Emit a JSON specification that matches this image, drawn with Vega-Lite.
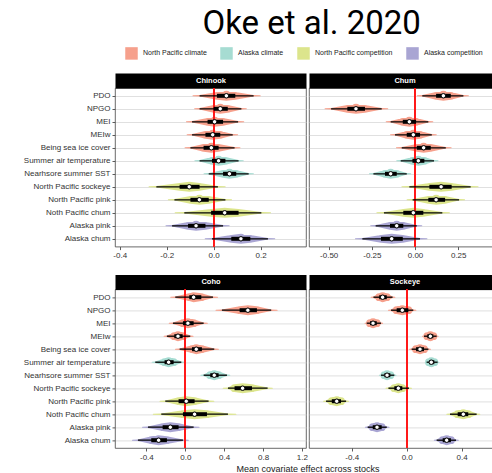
{
  "$schema": "https://vega.github.io/schema/vega-lite/v6.json",
  "padding": {"left": 22, "top": 7, "right": 0, "bottom": 0},
  "title": {"text": "Oke et al. 2020", "font": "Roboto", "fontSize": 33, "fontWeight": "normal", "color": "#000000", "anchor": "middle", "dx": 50, "offset": 6},
  "datasets": {
    "profile": [
      {"stat": "tlo", "dens": 0},
      {"stat": "lo", "dens": 0.15},
      {"stat": "q1", "dens": 0.78},
      {"stat": "med", "dens": 1},
      {"stat": "q3", "dens": 0.78},
      {"stat": "hi", "dens": 0.15},
      {"stat": "thi", "dens": 0}
    ],
    "effects": [
      {"species":"Chinook","covariate":"PDO","group":"North Pacific climate","tlo":-0.088,"lo":-0.060,"q1":0.014,"med":0.054,"q3":0.092,"hi":0.170,"thi":0.198},
      {"species":"Chinook","covariate":"NPGO","group":"North Pacific climate","tlo":-0.081,"lo":-0.060,"q1":0.000,"med":0.028,"q3":0.060,"hi":0.118,"thi":0.139},
      {"species":"Chinook","covariate":"MEI","group":"North Pacific climate","tlo":-0.116,"lo":-0.092,"q1":-0.026,"med":0.004,"q3":0.040,"hi":0.104,"thi":0.128},
      {"species":"Chinook","covariate":"MEIw","group":"North Pacific climate","tlo":-0.113,"lo":-0.092,"q1":-0.035,"med":-0.004,"q3":0.028,"hi":0.081,"thi":0.102},
      {"species":"Chinook","covariate":"Being sea ice cover","group":"North Pacific climate","tlo":-0.122,"lo":-0.099,"q1":-0.043,"med":-0.010,"q3":0.021,"hi":0.089,"thi":0.112},
      {"species":"Chinook","covariate":"Summer air temperature","group":"Alaska climate","tlo":-0.080,"lo":-0.060,"q1":-0.007,"med":0.021,"q3":0.050,"hi":0.106,"thi":0.126},
      {"species":"Chinook","covariate":"Nearhsore summer SST","group":"Alaska climate","tlo":-0.041,"lo":-0.021,"q1":0.040,"med":0.067,"q3":0.096,"hi":0.149,"thi":0.169},
      {"species":"Chinook","covariate":"North Pacific sockeye","group":"North Pacific competition","tlo":-0.275,"lo":-0.244,"q1":-0.145,"med":-0.104,"q3":-0.060,"hi":0.018,"thi":0.049},
      {"species":"Chinook","covariate":"North Pacific pink","group":"North Pacific competition","tlo":-0.193,"lo":-0.167,"q1":-0.099,"med":-0.061,"q3":-0.021,"hi":0.050,"thi":0.076},
      {"species":"Chinook","covariate":"Noth Pacific chum","group":"North Pacific competition","tlo":-0.164,"lo":-0.125,"q1":-0.011,"med":0.047,"q3":0.106,"hi":0.203,"thi":0.242},
      {"species":"Chinook","covariate":"Alaska pink","group":"Alaska competition","tlo":-0.203,"lo":-0.177,"q1":-0.109,"med":-0.075,"q3":-0.035,"hi":0.040,"thi":0.066},
      {"species":"Chinook","covariate":"Alaska chum","group":"Alaska competition","tlo":-0.036,"lo":-0.007,"q1":0.075,"med":0.116,"q3":0.156,"hi":0.231,"thi":0.260},

      {"species":"Chum","covariate":"PDO","group":"North Pacific climate","tlo":0.013,"lo":0.042,"q1":0.122,"med":0.164,"q3":0.207,"hi":0.280,"thi":0.309},
      {"species":"Chum","covariate":"NPGO","group":"North Pacific climate","tlo":-0.521,"lo":-0.486,"q1":-0.392,"med":-0.342,"q3":-0.290,"hi":-0.193,"thi":-0.158},
      {"species":"Chum","covariate":"MEI","group":"North Pacific climate","tlo":-0.167,"lo":-0.141,"q1":-0.071,"med":-0.033,"q3":0.006,"hi":0.077,"thi":0.103},
      {"species":"Chum","covariate":"MEIw","group":"North Pacific climate","tlo":-0.142,"lo":-0.116,"q1":-0.048,"med":-0.010,"q3":0.029,"hi":0.097,"thi":0.123},
      {"species":"Chum","covariate":"Being sea ice cover","group":"North Pacific climate","tlo":-0.108,"lo":-0.077,"q1":0.010,"med":0.050,"q3":0.091,"hi":0.178,"thi":0.209},
      {"species":"Chum","covariate":"Summer air temperature","group":"Alaska climate","tlo":-0.106,"lo":-0.083,"q1":-0.015,"med":0.019,"q3":0.054,"hi":0.110,"thi":0.133},
      {"species":"Chum","covariate":"Nearhsore summer SST","group":"Alaska climate","tlo":-0.264,"lo":-0.241,"q1":-0.174,"med":-0.141,"q3":-0.106,"hi":-0.048,"thi":-0.025},
      {"species":"Chum","covariate":"North Pacific sockeye","group":"North Pacific competition","tlo":-0.076,"lo":-0.033,"q1":0.083,"med":0.151,"q3":0.212,"hi":0.322,"thi":0.365},
      {"species":"Chum","covariate":"North Pacific pink","group":"North Pacific competition","tlo":-0.046,"lo":-0.014,"q1":0.077,"med":0.122,"q3":0.174,"hi":0.255,"thi":0.287},
      {"species":"Chum","covariate":"Noth Pacific chum","group":"North Pacific competition","tlo":-0.221,"lo":-0.180,"q1":-0.068,"med":-0.010,"q3":0.048,"hi":0.158,"thi":0.199},
      {"species":"Chum","covariate":"Alaska pink","group":"Alaska competition","tlo":-0.257,"lo":-0.228,"q1":-0.145,"med":-0.106,"q3":-0.068,"hi":0.010,"thi":0.039},
      {"species":"Chum","covariate":"Alaska chum","group":"Alaska competition","tlo":-0.345,"lo":-0.305,"q1":-0.197,"med":-0.135,"q3":-0.071,"hi":0.029,"thi":0.069},

      {"species":"Coho","covariate":"PDO","group":"North Pacific climate","tlo":-0.150,"lo":-0.103,"q1":0.041,"med":0.086,"q3":0.165,"hi":0.285,"thi":0.332},
      {"species":"Coho","covariate":"NPGO","group":"North Pacific climate","tlo":0.316,"lo":0.377,"q1":0.559,"med":0.644,"q3":0.737,"hi":0.884,"thi":0.945},
      {"species":"Coho","covariate":"MEI","group":"North Pacific climate","tlo":-0.165,"lo":-0.127,"q1":-0.024,"med":0.027,"q3":0.086,"hi":0.189,"thi":0.227},
      {"species":"Coho","covariate":"MEIw","group":"North Pacific climate","tlo":-0.218,"lo":-0.189,"q1":-0.113,"med":-0.075,"q3":-0.027,"hi":0.051,"thi":0.080},
      {"species":"Coho","covariate":"Being sea ice cover","group":"North Pacific climate","tlo":-0.101,"lo":-0.058,"q1":0.069,"med":0.113,"q3":0.171,"hi":0.298,"thi":0.341},
      {"species":"Coho","covariate":"Summer air temperature","group":"Alaska climate","tlo":-0.341,"lo":-0.309,"q1":-0.213,"med":-0.171,"q3":-0.120,"hi":-0.041,"thi":-0.009},
      {"species":"Coho","covariate":"Nearhsore summer SST","group":"Alaska climate","tlo":0.160,"lo":0.189,"q1":0.257,"med":0.298,"q3":0.343,"hi":0.429,"thi":0.458},
      {"species":"Coho","covariate":"North Pacific sockeye","group":"North Pacific competition","tlo":0.390,"lo":0.439,"q1":0.507,"med":0.590,"q3":0.686,"hi":0.847,"thi":0.896},
      {"species":"Coho","covariate":"North Pacific pink","group":"North Pacific competition","tlo":-0.260,"lo":-0.206,"q1":-0.069,"med":0.010,"q3":0.096,"hi":0.240,"thi":0.294},
      {"species":"Coho","covariate":"Noth Pacific chum","group":"North Pacific competition","tlo":-0.329,"lo":-0.247,"q1":-0.024,"med":0.096,"q3":0.223,"hi":0.439,"thi":0.521},
      {"species":"Coho","covariate":"Alaska pink","group":"Alaska competition","tlo":-0.440,"lo":-0.384,"q1":-0.233,"med":-0.154,"q3":-0.069,"hi":0.086,"thi":0.142},
      {"species":"Coho","covariate":"Alaska chum","group":"Alaska competition","tlo":-0.543,"lo":-0.487,"q1":-0.350,"med":-0.274,"q3":-0.189,"hi":-0.024,"thi":0.032},

      {"species":"Sockeye","covariate":"PDO","group":"North Pacific climate","tlo":-0.259,"lo":-0.242,"q1":-0.200,"med":-0.175,"q3":-0.145,"hi":-0.103,"thi":-0.086},
      {"species":"Sockeye","covariate":"NPGO","group":"North Pacific climate","tlo":-0.133,"lo":-0.114,"q1":-0.073,"med":-0.032,"q3":0.012,"hi":0.048,"thi":0.067},
      {"species":"Sockeye","covariate":"MEI","group":"North Pacific climate","tlo":-0.303,"lo":-0.291,"q1":-0.267,"med":-0.245,"q3":-0.218,"hi":-0.187,"thi":-0.175},
      {"species":"Sockeye","covariate":"MEIw","group":"North Pacific climate","tlo":0.115,"lo":0.126,"q1":0.150,"med":0.172,"q3":0.194,"hi":0.218,"thi":0.229},
      {"species":"Sockeye","covariate":"Being sea ice cover","group":"North Pacific climate","tlo":0.021,"lo":0.036,"q1":0.068,"med":0.097,"q3":0.126,"hi":0.158,"thi":0.173},
      {"species":"Sockeye","covariate":"Summer air temperature","group":"Alaska climate","tlo":0.135,"lo":0.145,"q1":0.162,"med":0.179,"q3":0.201,"hi":0.225,"thi":0.235},
      {"species":"Sockeye","covariate":"Nearhsore summer SST","group":"Alaska climate","tlo":-0.199,"lo":-0.187,"q1":-0.162,"med":-0.143,"q3":-0.119,"hi":-0.090,"thi":-0.078},
      {"species":"Sockeye","covariate":"North Pacific sockeye","group":"North Pacific competition","tlo":-0.151,"lo":-0.133,"q1":-0.090,"med":-0.061,"q3":-0.032,"hi":0.017,"thi":0.035},
      {"species":"Sockeye","covariate":"North Pacific pink","group":"North Pacific competition","tlo":-0.605,"lo":-0.587,"q1":-0.545,"med":-0.509,"q3":-0.478,"hi":-0.441,"thi":-0.423},
      {"species":"Sockeye","covariate":"Noth Pacific chum","group":"North Pacific competition","tlo":0.292,"lo":0.315,"q1":0.371,"med":0.412,"q3":0.448,"hi":0.509,"thi":0.532},
      {"species":"Sockeye","covariate":"Alaska pink","group":"Alaska competition","tlo":-0.301,"lo":-0.284,"q1":-0.247,"med":-0.216,"q3":-0.182,"hi":-0.145,"thi":-0.128},
      {"species":"Sockeye","covariate":"Alaska chum","group":"Alaska competition","tlo":0.201,"lo":0.218,"q1":0.262,"med":0.291,"q3":0.322,"hi":0.359,"thi":0.376}
    ]
  },
  "data": {"name": "effects"},
  "columns": 2,
  "spacing": {"row": 42.4, "column": 3},
  "bounds": "flush",
  "concat": [
    {
      "width": 191, "height": 158.6,
      "transform": [{"filter": {"field": "species", "equal": "Chinook"}}],
      "layer": [
        {
          "transform": [
            {"fold": ["tlo", "lo", "q1", "med", "q3", "hi", "thi"], "as": ["stat", "xv"]},
            {"lookup": "stat", "from": {"data": {"name": "profile"}, "key": "stat", "fields": ["dens"]}}
          ],
          "mark": {"type": "trail", "opacity": 1},
          "encoding": {
            "x": {"field": "xv", "type": "quantitative", "scale": {"domain": [-0.42, 0.393], "nice": false, "zero": false}, "axis": null},
            "y": {"field": "covariate", "type": "nominal", "scale": {"type": "point", "padding": 0.6, "domain": ["PDO","NPGO","MEI","MEIw","Being sea ice cover","Summer air temperature","Nearhsore summer SST","North Pacific sockeye","North Pacific pink","Noth Pacific chum","Alaska pink","Alaska chum"]}, "axis": {"title": null, "grid": true, "gridColor": "#d2d2d2", "gridWidth": 0.7, "ticks": true, "labels": true}},
            "detail": {"field": "covariate"},
            "color": {"field": "group", "type": "nominal", "scale": {"domain": ["North Pacific climate", "Alaska climate", "North Pacific competition", "Alaska competition"], "range": ["#F6A08C", "#A6DCD2", "#DCE58C", "#A9A5D3"]},
              "legend": {"title": null, "encode": {"symbols": {"update": {"fill": {"scale": "color", "field": "value"}, "fillOpacity": {"value": 1}, "stroke": {"value": "transparent"}}}}}},
            "size": {"field": "dens", "type": "quantitative", "scale": {"domain": [0, 1], "range": [0, 10]}, "legend": null}
          }
        },
        {
          "mark": {"type": "rule", "color": "#FF1A1A", "strokeWidth": 1.2},
          "encoding": {
            "x": {"datum": 0, "type": "quantitative", "scale": {"domain": [-0.42, 0.393], "nice": false, "zero": false},
              "axis": {"orient": "top", "title": "Chinook", "labels": false, "ticks": false, "grid": false, "domain": true, "domainColor": "#000000", "domainWidth": 15, "offset": 7.5, "titleColor": "#ffffff", "titleFontSize": 7.5, "titleFontWeight": "bold", "titleY": 0, "titleBaseline": "middle", "titleAlign": "center"}}
          }
        },
        {
          "mark": {"type": "rule", "color": "#000000", "strokeWidth": 1.3},
          "encoding": {
            "x": {"field": "lo", "type": "quantitative", "scale": {"domain": [-0.42, 0.393], "nice": false, "zero": false}, "axis": {"title": null, "values": [-0.4, -0.2, 0, 0.2], "format": ".1f", "labelFlush": false}},
            "x2": {"field": "hi"},
            "y": {"field": "covariate", "type": "nominal", "scale": {"type": "point", "padding": 0.6, "domain": ["PDO","NPGO","MEI","MEIw","Being sea ice cover","Summer air temperature","Nearhsore summer SST","North Pacific sockeye","North Pacific pink","Noth Pacific chum","Alaska pink","Alaska chum"]}, "axis": {"title": null, "grid": true, "gridColor": "#d2d2d2", "gridWidth": 0.7, "ticks": true, "labels": true}}
          }
        },
        {
          "mark": {"type": "rule", "color": "#000000", "strokeWidth": 4},
          "encoding": {
            "x": {"field": "q1", "type": "quantitative", "scale": {"domain": [-0.42, 0.393], "nice": false, "zero": false}, "axis": null},
            "x2": {"field": "q3"},
            "y": {"field": "covariate", "type": "nominal", "scale": {"type": "point", "padding": 0.6, "domain": ["PDO","NPGO","MEI","MEIw","Being sea ice cover","Summer air temperature","Nearhsore summer SST","North Pacific sockeye","North Pacific pink","Noth Pacific chum","Alaska pink","Alaska chum"]}, "axis": {"title": null, "grid": true, "gridColor": "#d2d2d2", "gridWidth": 0.7, "ticks": true, "labels": true}}
          }
        },
        {
          "mark": {"type": "point", "filled": true, "fill": "#ffffff", "stroke": "#000000", "strokeWidth": 1, "size": 20, "opacity": 1},
          "encoding": {
            "x": {"field": "med", "type": "quantitative", "scale": {"domain": [-0.42, 0.393], "nice": false, "zero": false}, "axis": null},
            "y": {"field": "covariate", "type": "nominal", "scale": {"type": "point", "padding": 0.6, "domain": ["PDO","NPGO","MEI","MEIw","Being sea ice cover","Summer air temperature","Nearhsore summer SST","North Pacific sockeye","North Pacific pink","Noth Pacific chum","Alaska pink","Alaska chum"]}, "axis": {"title": null, "grid": true, "gridColor": "#d2d2d2", "gridWidth": 0.7, "ticks": true, "labels": true}}
          }
        }
      ],
      "resolve": {"axis": {"x": "independent"}}
    },
    {
      "width": 191, "height": 158.6,
      "transform": [{"filter": {"field": "species", "equal": "Chum"}}],
      "layer": [
        {
          "transform": [
            {"fold": ["tlo", "lo", "q1", "med", "q3", "hi", "thi"], "as": ["stat", "xv"]},
            {"lookup": "stat", "from": {"data": {"name": "profile"}, "key": "stat", "fields": ["dens"]}}
          ],
          "mark": {"type": "trail", "opacity": 1},
          "encoding": {
            "x": {"field": "xv", "type": "quantitative", "scale": {"domain": [-0.614, 0.492], "nice": false, "zero": false}, "axis": null},
            "y": {"field": "covariate", "type": "nominal", "scale": {"type": "point", "padding": 0.6, "domain": ["PDO","NPGO","MEI","MEIw","Being sea ice cover","Summer air temperature","Nearhsore summer SST","North Pacific sockeye","North Pacific pink","Noth Pacific chum","Alaska pink","Alaska chum"]}, "axis": {"title": null, "grid": true, "gridColor": "#d2d2d2", "gridWidth": 0.7, "ticks": false, "labels": false}},
            "detail": {"field": "covariate"},
            "color": {"field": "group", "type": "nominal", "scale": {"domain": ["North Pacific climate", "Alaska climate", "North Pacific competition", "Alaska competition"], "range": ["#F6A08C", "#A6DCD2", "#DCE58C", "#A9A5D3"]},
              "legend": {"title": null, "encode": {"symbols": {"update": {"fill": {"scale": "color", "field": "value"}, "fillOpacity": {"value": 1}, "stroke": {"value": "transparent"}}}}}},
            "size": {"field": "dens", "type": "quantitative", "scale": {"domain": [0, 1], "range": [0, 10]}, "legend": null}
          }
        },
        {
          "mark": {"type": "rule", "color": "#FF1A1A", "strokeWidth": 1.2},
          "encoding": {
            "x": {"datum": 0, "type": "quantitative", "scale": {"domain": [-0.614, 0.492], "nice": false, "zero": false},
              "axis": {"orient": "top", "title": "Chum", "labels": false, "ticks": false, "grid": false, "domain": true, "domainColor": "#000000", "domainWidth": 15, "offset": 7.5, "titleColor": "#ffffff", "titleFontSize": 7.5, "titleFontWeight": "bold", "titleY": 0, "titleBaseline": "middle", "titleAlign": "center"}}
          }
        },
        {
          "mark": {"type": "rule", "color": "#000000", "strokeWidth": 1.3},
          "encoding": {
            "x": {"field": "lo", "type": "quantitative", "scale": {"domain": [-0.614, 0.492], "nice": false, "zero": false}, "axis": {"title": null, "values": [-0.5, -0.25, 0, 0.25], "format": ".2f", "labelFlush": false}},
            "x2": {"field": "hi"},
            "y": {"field": "covariate", "type": "nominal", "scale": {"type": "point", "padding": 0.6, "domain": ["PDO","NPGO","MEI","MEIw","Being sea ice cover","Summer air temperature","Nearhsore summer SST","North Pacific sockeye","North Pacific pink","Noth Pacific chum","Alaska pink","Alaska chum"]}, "axis": {"title": null, "grid": true, "gridColor": "#d2d2d2", "gridWidth": 0.7, "ticks": false, "labels": false}}
          }
        },
        {
          "mark": {"type": "rule", "color": "#000000", "strokeWidth": 4},
          "encoding": {
            "x": {"field": "q1", "type": "quantitative", "scale": {"domain": [-0.614, 0.492], "nice": false, "zero": false}, "axis": null},
            "x2": {"field": "q3"},
            "y": {"field": "covariate", "type": "nominal", "scale": {"type": "point", "padding": 0.6, "domain": ["PDO","NPGO","MEI","MEIw","Being sea ice cover","Summer air temperature","Nearhsore summer SST","North Pacific sockeye","North Pacific pink","Noth Pacific chum","Alaska pink","Alaska chum"]}, "axis": {"title": null, "grid": true, "gridColor": "#d2d2d2", "gridWidth": 0.7, "ticks": false, "labels": false}}
          }
        },
        {
          "mark": {"type": "point", "filled": true, "fill": "#ffffff", "stroke": "#000000", "strokeWidth": 1, "size": 20, "opacity": 1},
          "encoding": {
            "x": {"field": "med", "type": "quantitative", "scale": {"domain": [-0.614, 0.492], "nice": false, "zero": false}, "axis": null},
            "y": {"field": "covariate", "type": "nominal", "scale": {"type": "point", "padding": 0.6, "domain": ["PDO","NPGO","MEI","MEIw","Being sea ice cover","Summer air temperature","Nearhsore summer SST","North Pacific sockeye","North Pacific pink","Noth Pacific chum","Alaska pink","Alaska chum"]}, "axis": {"title": null, "grid": true, "gridColor": "#d2d2d2", "gridWidth": 0.7, "ticks": false, "labels": false}}
          }
        }
      ],
      "resolve": {"axis": {"x": "independent"}}
    },
    {
      "width": 191, "height": 158.6,
      "transform": [{"filter": {"field": "species", "equal": "Coho"}}],
      "layer": [
        {
          "transform": [
            {"fold": ["tlo", "lo", "q1", "med", "q3", "hi", "thi"], "as": ["stat", "xv"]},
            {"lookup": "stat", "from": {"data": {"name": "profile"}, "key": "stat", "fields": ["dens"]}}
          ],
          "mark": {"type": "trail", "opacity": 1},
          "encoding": {
            "x": {"field": "xv", "type": "quantitative", "scale": {"domain": [-0.723, 1.242], "nice": false, "zero": false}, "axis": null},
            "y": {"field": "covariate", "type": "nominal", "scale": {"type": "point", "padding": 0.6, "domain": ["PDO","NPGO","MEI","MEIw","Being sea ice cover","Summer air temperature","Nearhsore summer SST","North Pacific sockeye","North Pacific pink","Noth Pacific chum","Alaska pink","Alaska chum"]}, "axis": {"title": null, "grid": true, "gridColor": "#d2d2d2", "gridWidth": 0.7, "ticks": true, "labels": true}},
            "detail": {"field": "covariate"},
            "color": {"field": "group", "type": "nominal", "scale": {"domain": ["North Pacific climate", "Alaska climate", "North Pacific competition", "Alaska competition"], "range": ["#F6A08C", "#A6DCD2", "#DCE58C", "#A9A5D3"]},
              "legend": {"title": null, "encode": {"symbols": {"update": {"fill": {"scale": "color", "field": "value"}, "fillOpacity": {"value": 1}, "stroke": {"value": "transparent"}}}}}},
            "size": {"field": "dens", "type": "quantitative", "scale": {"domain": [0, 1], "range": [0, 10]}, "legend": null}
          }
        },
        {
          "mark": {"type": "rule", "color": "#FF1A1A", "strokeWidth": 1.2},
          "encoding": {
            "x": {"datum": 0, "type": "quantitative", "scale": {"domain": [-0.723, 1.242], "nice": false, "zero": false},
              "axis": {"orient": "top", "title": "Coho", "labels": false, "ticks": false, "grid": false, "domain": true, "domainColor": "#000000", "domainWidth": 15, "offset": 7.5, "titleColor": "#ffffff", "titleFontSize": 7.5, "titleFontWeight": "bold", "titleY": 0, "titleBaseline": "middle", "titleAlign": "center"}}
          }
        },
        {
          "mark": {"type": "rule", "color": "#000000", "strokeWidth": 1.3},
          "encoding": {
            "x": {"field": "lo", "type": "quantitative", "scale": {"domain": [-0.723, 1.242], "nice": false, "zero": false}, "axis": {"title": "Mean covariate effect across stocks", "values": [-0.4, 0, 0.4, 0.8, 1.2], "format": ".1f", "labelFlush": false, "titleX": 192.5, "titleAlign": "center", "titlePadding": 3}},
            "x2": {"field": "hi"},
            "y": {"field": "covariate", "type": "nominal", "scale": {"type": "point", "padding": 0.6, "domain": ["PDO","NPGO","MEI","MEIw","Being sea ice cover","Summer air temperature","Nearhsore summer SST","North Pacific sockeye","North Pacific pink","Noth Pacific chum","Alaska pink","Alaska chum"]}, "axis": {"title": null, "grid": true, "gridColor": "#d2d2d2", "gridWidth": 0.7, "ticks": true, "labels": true}}
          }
        },
        {
          "mark": {"type": "rule", "color": "#000000", "strokeWidth": 4},
          "encoding": {
            "x": {"field": "q1", "type": "quantitative", "scale": {"domain": [-0.723, 1.242], "nice": false, "zero": false}, "axis": null},
            "x2": {"field": "q3"},
            "y": {"field": "covariate", "type": "nominal", "scale": {"type": "point", "padding": 0.6, "domain": ["PDO","NPGO","MEI","MEIw","Being sea ice cover","Summer air temperature","Nearhsore summer SST","North Pacific sockeye","North Pacific pink","Noth Pacific chum","Alaska pink","Alaska chum"]}, "axis": {"title": null, "grid": true, "gridColor": "#d2d2d2", "gridWidth": 0.7, "ticks": true, "labels": true}}
          }
        },
        {
          "mark": {"type": "point", "filled": true, "fill": "#ffffff", "stroke": "#000000", "strokeWidth": 1, "size": 20, "opacity": 1},
          "encoding": {
            "x": {"field": "med", "type": "quantitative", "scale": {"domain": [-0.723, 1.242], "nice": false, "zero": false}, "axis": null},
            "y": {"field": "covariate", "type": "nominal", "scale": {"type": "point", "padding": 0.6, "domain": ["PDO","NPGO","MEI","MEIw","Being sea ice cover","Summer air temperature","Nearhsore summer SST","North Pacific sockeye","North Pacific pink","Noth Pacific chum","Alaska pink","Alaska chum"]}, "axis": {"title": null, "grid": true, "gridColor": "#d2d2d2", "gridWidth": 0.7, "ticks": true, "labels": true}}
          }
        }
      ],
      "resolve": {"axis": {"x": "independent"}}
    },
    {
      "width": 191, "height": 158.6,
      "transform": [{"filter": {"field": "species", "equal": "Sockeye"}}],
      "layer": [
        {
          "transform": [
            {"fold": ["tlo", "lo", "q1", "med", "q3", "hi", "thi"], "as": ["stat", "xv"]},
            {"lookup": "stat", "from": {"data": {"name": "profile"}, "key": "stat", "fields": ["dens"]}}
          ],
          "mark": {"type": "trail", "opacity": 1},
          "encoding": {
            "x": {"field": "xv", "type": "quantitative", "scale": {"domain": [-0.711, 0.679], "nice": false, "zero": false}, "axis": null},
            "y": {"field": "covariate", "type": "nominal", "scale": {"type": "point", "padding": 0.6, "domain": ["PDO","NPGO","MEI","MEIw","Being sea ice cover","Summer air temperature","Nearhsore summer SST","North Pacific sockeye","North Pacific pink","Noth Pacific chum","Alaska pink","Alaska chum"]}, "axis": {"title": null, "grid": true, "gridColor": "#d2d2d2", "gridWidth": 0.7, "ticks": false, "labels": false}},
            "detail": {"field": "covariate"},
            "color": {"field": "group", "type": "nominal", "scale": {"domain": ["North Pacific climate", "Alaska climate", "North Pacific competition", "Alaska competition"], "range": ["#F6A08C", "#A6DCD2", "#DCE58C", "#A9A5D3"]},
              "legend": {"title": null, "encode": {"symbols": {"update": {"fill": {"scale": "color", "field": "value"}, "fillOpacity": {"value": 1}, "stroke": {"value": "transparent"}}}}}},
            "size": {"field": "dens", "type": "quantitative", "scale": {"domain": [0, 1], "range": [0, 10]}, "legend": null}
          }
        },
        {
          "mark": {"type": "rule", "color": "#FF1A1A", "strokeWidth": 1.2},
          "encoding": {
            "x": {"datum": 0, "type": "quantitative", "scale": {"domain": [-0.711, 0.679], "nice": false, "zero": false},
              "axis": {"orient": "top", "title": "Sockeye", "labels": false, "ticks": false, "grid": false, "domain": true, "domainColor": "#000000", "domainWidth": 15, "offset": 7.5, "titleColor": "#ffffff", "titleFontSize": 7.5, "titleFontWeight": "bold", "titleY": 0, "titleBaseline": "middle", "titleAlign": "center"}}
          }
        },
        {
          "mark": {"type": "rule", "color": "#000000", "strokeWidth": 1.3},
          "encoding": {
            "x": {"field": "lo", "type": "quantitative", "scale": {"domain": [-0.711, 0.679], "nice": false, "zero": false}, "axis": {"title": null, "values": [-0.4, 0, 0.4], "format": ".1f", "labelFlush": false}},
            "x2": {"field": "hi"},
            "y": {"field": "covariate", "type": "nominal", "scale": {"type": "point", "padding": 0.6, "domain": ["PDO","NPGO","MEI","MEIw","Being sea ice cover","Summer air temperature","Nearhsore summer SST","North Pacific sockeye","North Pacific pink","Noth Pacific chum","Alaska pink","Alaska chum"]}, "axis": {"title": null, "grid": true, "gridColor": "#d2d2d2", "gridWidth": 0.7, "ticks": false, "labels": false}}
          }
        },
        {
          "mark": {"type": "rule", "color": "#000000", "strokeWidth": 4},
          "encoding": {
            "x": {"field": "q1", "type": "quantitative", "scale": {"domain": [-0.711, 0.679], "nice": false, "zero": false}, "axis": null},
            "x2": {"field": "q3"},
            "y": {"field": "covariate", "type": "nominal", "scale": {"type": "point", "padding": 0.6, "domain": ["PDO","NPGO","MEI","MEIw","Being sea ice cover","Summer air temperature","Nearhsore summer SST","North Pacific sockeye","North Pacific pink","Noth Pacific chum","Alaska pink","Alaska chum"]}, "axis": {"title": null, "grid": true, "gridColor": "#d2d2d2", "gridWidth": 0.7, "ticks": false, "labels": false}}
          }
        },
        {
          "mark": {"type": "point", "filled": true, "fill": "#ffffff", "stroke": "#000000", "strokeWidth": 1, "size": 20, "opacity": 1},
          "encoding": {
            "x": {"field": "med", "type": "quantitative", "scale": {"domain": [-0.711, 0.679], "nice": false, "zero": false}, "axis": null},
            "y": {"field": "covariate", "type": "nominal", "scale": {"type": "point", "padding": 0.6, "domain": ["PDO","NPGO","MEI","MEIw","Being sea ice cover","Summer air temperature","Nearhsore summer SST","North Pacific sockeye","North Pacific pink","Noth Pacific chum","Alaska pink","Alaska chum"]}, "axis": {"title": null, "grid": true, "gridColor": "#d2d2d2", "gridWidth": 0.7, "ticks": false, "labels": false}}
          }
        }
      ],
      "resolve": {"axis": {"x": "independent"}}
    }
  ],
  "config": {
    "locale": {"number": {"decimal": ".", "thousands": ",", "grouping": [3], "currency": ["$", ""], "minus": "-"}},
    "font": "Liberation Sans",
    "view": {"stroke": "#444444", "strokeWidth": 0.8},
    "axis": {"labelFont": "Liberation Sans", "labelFontSize": 8, "labelColor": "#333333", "tickColor": "#333333", "tickSize": 3, "tickWidth": 0.8, "labelPadding": 2, "domain": false, "titleFont": "Liberation Sans", "titleFontSize": 9, "titleFontWeight": "normal", "titleColor": "#1a1a1a"},
    "legend": {"orient": "none", "legendX": 10, "legendY": -41.2, "direction": "horizontal", "columns": 4, "symbolType": "square", "symbolSize": 156, "symbolStrokeWidth": 0, "symbolOpacity": 1, "labelFont": "Liberation Sans", "labelFontSize": 7, "labelColor": "#222222", "columnPadding": 13, "labelOffset": 5}
  }
}
